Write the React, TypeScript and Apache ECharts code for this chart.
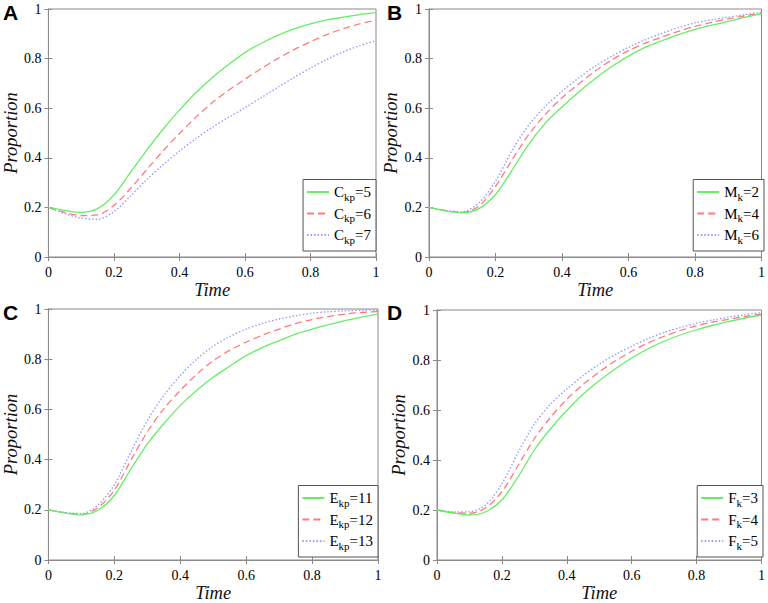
import React, { useEffect, useRef } from "react";
import * as echarts from "echarts";

const times = [0, 0.05, 0.1, 0.15, 0.2, 0.25, 0.3, 0.35, 0.4, 0.45, 0.5, 0.55, 0.6, 0.65, 0.7, 0.75, 0.8, 0.85, 0.9, 0.95, 1];

// Panel A: C_kp
const aNames = ["Ckp=5", "Ckp=6", "Ckp=7"];
const aGreen = [0.2, 0.188, 0.18, 0.195, 0.25, 0.34, 0.43, 0.515, 0.592, 0.662, 0.723, 0.776, 0.824, 0.862, 0.894, 0.92, 0.94, 0.956, 0.967, 0.977, 0.985];
const aRed = [0.2, 0.18, 0.167, 0.17, 0.208, 0.275, 0.352, 0.428, 0.498, 0.563, 0.622, 0.672, 0.717, 0.76, 0.8, 0.836, 0.868, 0.897, 0.921, 0.94, 0.955];
const aBlue = [0.2, 0.175, 0.157, 0.152, 0.183, 0.245, 0.312, 0.372, 0.427, 0.477, 0.523, 0.563, 0.602, 0.643, 0.684, 0.724, 0.762, 0.797, 0.827, 0.852, 0.872];

// Panel B: M_k
const bNames = ["Mk=2", "Mk=4", "Mk=6"];
const bGreen = [0.2, 0.186, 0.178, 0.195, 0.252, 0.35, 0.455, 0.54, 0.605, 0.665, 0.72, 0.768, 0.81, 0.845, 0.872, 0.897, 0.918, 0.935, 0.95, 0.966, 0.98];
const bRed = [0.2, 0.187, 0.18, 0.205, 0.285, 0.392, 0.494, 0.575, 0.642, 0.698, 0.75, 0.795, 0.832, 0.862, 0.887, 0.91, 0.93, 0.946, 0.96, 0.972, 0.984];
const bBlue = [0.2, 0.188, 0.183, 0.218, 0.305, 0.43, 0.532, 0.608, 0.668, 0.722, 0.77, 0.81, 0.845, 0.876, 0.902, 0.925, 0.944, 0.956, 0.967, 0.977, 0.987];

// Panel C: E_kp
const cNames = ["Ekp=11", "Ekp=12", "Ekp=13"];
const cGreen = [0.2, 0.188, 0.18, 0.198, 0.257, 0.362, 0.462, 0.543, 0.615, 0.676, 0.728, 0.772, 0.814, 0.847, 0.874, 0.9, 0.92, 0.938, 0.954, 0.968, 0.98];
const cRed = [0.2, 0.188, 0.182, 0.208, 0.278, 0.397, 0.51, 0.602, 0.675, 0.74, 0.794, 0.835, 0.868, 0.896, 0.92, 0.942, 0.958, 0.97, 0.98, 0.986, 0.99];
const cBlue = [0.2, 0.189, 0.185, 0.218, 0.3, 0.43, 0.555, 0.655, 0.735, 0.8, 0.852, 0.89, 0.92, 0.943, 0.96, 0.973, 0.983, 0.989, 0.993, 0.995, 0.996];

// Panel D: F_k
const dNames = ["Fk=3", "Fk=4", "Fk=5"];
const dGreen = [0.2, 0.188, 0.18, 0.193, 0.24, 0.333, 0.44, 0.525, 0.598, 0.663, 0.717, 0.765, 0.808, 0.845, 0.875, 0.9, 0.921, 0.939, 0.954, 0.968, 0.98];
const dRed = [0.2, 0.19, 0.187, 0.208, 0.273, 0.378, 0.485, 0.571, 0.643, 0.702, 0.752, 0.797, 0.835, 0.868, 0.895, 0.918, 0.937, 0.952, 0.963, 0.974, 0.984];
const dBlue = [0.2, 0.192, 0.193, 0.22, 0.305, 0.43, 0.543, 0.624, 0.684, 0.737, 0.783, 0.822, 0.855, 0.885, 0.91, 0.93, 0.947, 0.96, 0.971, 0.981, 0.99];

const panelLetters = ["A", "B", "C", "D"];

const SERIF = "'Liberation Serif', 'Times New Roman', Times, serif";
const SANS = "'Liberation Sans', Arial, sans-serif";
const GREEN = "#66ee66";
const RED = "#ff7b7b";
const BLUE = "#9a9aff";
const BOX = "#8a8a8a";

type Panel = {
  names: string[];
  data: number[][];
  grid: { left: number; top: number; width: number; height: number };
  legend: { right: number; bottom: number };
  letter: { left: number; top: number };
};

const panels: Panel[] = [
  { names: aNames, data: [aGreen, aRed, aBlue], grid: { left: 46, top: 9, width: 330, height: 248 }, legend: { right: 392, bottom: 352 }, letter: { left: 3, top: 2 } },
  { names: bNames, data: [bGreen, bRed, bBlue], grid: { left: 429, top: 9, width: 335, height: 248 }, legend: { right: 4, bottom: 352 }, letter: { left: 387, top: 2 } },
  { names: cNames, data: [cGreen, cRed, cBlue], grid: { left: 46, top: 309, width: 332, height: 252 }, legend: { right: 390, bottom: 46 }, letter: { left: 3, top: 302 } },
  { names: dNames, data: [dGreen, dRed, dBlue], grid: { left: 437, top: 310, width: 327, height: 253 }, legend: { right: 5, bottom: 46 }, letter: { left: 387, top: 302 } },
];

const lineStyles = [
  { color: GREEN, type: "solid" as any, width: 1.3 },
  { color: RED, type: [7, 4] as any, width: 1.3 },
  { color: BLUE, type: [1.5, 2] as any, width: 1.4 },
];

function fmt(v: number) {
  return String(+v.toFixed(1));
}

function legendFormatter(name: string) {
  const m = name.match(/^([A-Z])([a-z]+)(=\d+)$/);
  if (!m) return name;
  return `{m|${m[1]}}{s|${m[2]}}{m|${m[3]}}`;
}

export default function App() {
  const ref = useRef<HTMLDivElement>(null);
  useEffect(() => {
    if (!ref.current) return;
    const chart = echarts.init(ref.current, undefined, { renderer: "svg" });
    const grid: any[] = [];
    const xAxis: any[] = [];
    const yAxis: any[] = [];
    const series: any[] = [];
    const legend: any[] = [];
    const graphic: any[] = [];

    const labelStyle = { formatter: fmt, fontFamily: SERIF, fontSize: 14, color: "#000" };
    const nameStyle = { fontFamily: SERIF, fontStyle: "italic", fontSize: 18.5, color: "#111" };

    panels.forEach((p, i) => {
      grid.push({ ...p.grid, show: true, borderColor: BOX, borderWidth: 1, backgroundColor: "#fff" });
      const common = {
        type: "value",
        min: 0,
        max: 1,
        interval: 0.2,
        gridIndex: i,
        splitLine: { show: false },
        axisLine: { show: true, lineStyle: { color: BOX, width: 1 } },
        axisTick: { show: true, inside: true, length: 4, lineStyle: { color: BOX } },
      };
      xAxis.push({
        ...common,
        position: "bottom",
        name: "Time",
        nameLocation: "middle",
        nameGap: 23,
        nameTextStyle: nameStyle,
        axisLabel: { ...labelStyle, margin: 8 },
      });
      xAxis.push({ ...common, position: "top", axisLabel: { show: false } });
      yAxis.push({
        ...common,
        position: "left",
        name: "Proportion",
        nameLocation: "middle",
        nameGap: 28,
        nameTextStyle: nameStyle,
        axisLabel: { ...labelStyle, margin: 7 },
      });
      yAxis.push({ ...common, position: "right", axisLabel: { show: false } });

      p.names.forEach((n, k) => {
        series.push({
          type: "line",
          name: n,
          xAxisIndex: i * 2,
          yAxisIndex: i * 2,
          data: times.map((t, j) => [t, p.data[k][j]]),
          smooth: 0.3,
          symbol: "none",
          showSymbol: false,
          lineStyle: lineStyles[k],
          itemStyle: { color: lineStyles[k].color },
          z: 3 - k,
        });
      });

      legend.push({
        data: p.names,
        orient: "vertical",
        right: p.legend.right,
        bottom: p.legend.bottom,
        backgroundColor: "#fff",
        borderColor: "#555",
        borderWidth: 1,
        padding: [5, 5, 6, 3],
        itemGap: 4,
        itemWidth: 22,
        itemHeight: 10,
        selectedMode: false,
        itemStyle: { opacity: 0 },
        formatter: legendFormatter,
        textStyle: {
          color: "#000",
          fontFamily: SERIF,
          rich: {
            m: { fontSize: 15, fontFamily: SERIF, color: "#000", lineHeight: 20 },
            s: { fontSize: 11, fontFamily: SERIF, color: "#000", lineHeight: 9, verticalAlign: "bottom" },
          },
        },
      });

      graphic.push({
        type: "text",
        left: p.letter.left,
        top: p.letter.top,
        style: { text: panelLetters[i], font: `bold 21px ${SANS}`, fill: "#000" },
      });
    });

    chart.setOption({
      animation: false,
      backgroundColor: "#fff",
      textStyle: { fontFamily: SERIF },
      grid,
      xAxis,
      yAxis,
      series,
      legend,
      graphic,
    });
    return () => chart.dispose();
  }, []);
  return <div ref={ref} style={{ position: "fixed", left: 0, top: 0, width: 768, height: 603 }} />;
}
